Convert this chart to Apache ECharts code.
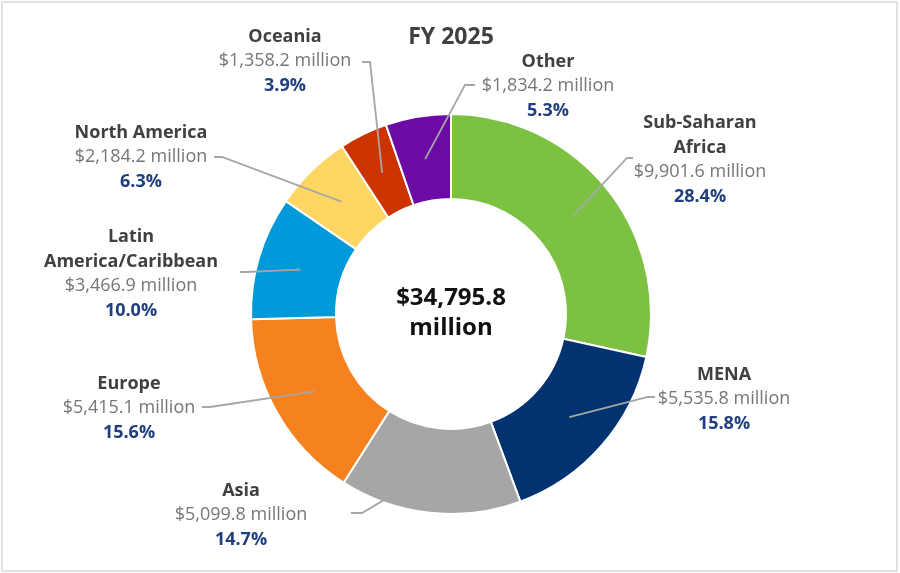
<!DOCTYPE html>
<html>
<head>
<meta charset="utf-8">
<title>FY 2025</title>
<script src="https://cdn.jsdelivr.net/npm/echarts@6/dist/echarts.min.js"></script>
<style>
  html, body { margin: 0; padding: 0; background: #fff; }
  #chart { width: 900px; height: 573px; }
  #frame {
    position: absolute; left: 1px; top: 1px; width: 897px; height: 571px;
    box-sizing: border-box; border: 2px solid #e2e2e2; pointer-events: none;
  }
</style>
</head>
<body>
<div id="chart"></div>
<div id="frame"></div>
<script>
// regions, clockwise from 12 o'clock
const regions = ["Sub-Saharan\nAfrica", "MENA", "Asia", "Europe", "Latin\nAmerica/Caribbean", "North America", "Oceania", "Other"];
// funding in $ million
const funding = [9901.6, 5535.8, 5099.8, 5415.1, 3466.9, 2184.2, 1358.2, 1834.2];
// share of total (%) as printed on the chart
const shares = [28.4, 15.8, 14.7, 15.6, 10.0, 6.3, 3.9, 5.3];
const colors = ["#7CC142", "#003370", "#A6A6A6", "#F5821F", "#0099DA", "#FFD662", "#CC3300", "#6B0AA5"];

// label placement (centre of text block) and leader-line bend/end
const labelAt = [[700, 160], [724, 399], [241, 515], [129, 408], [131, 274], [141, 157], [285, 61], [548, 86]];
const lineTail = [
  [[627, 158], [633, 158]],
  [[648, 397], [655, 397]],
  [[362, 513], [351, 513]],
  [[210, 407], [202, 407]],
  [[246, 272], [240, 272]],
  [[222, 157], [214, 157]],
  [[370, 62], [362, 62]],
  [[465, 85], [475, 85]]
];

const fmt = v => v.toLocaleString("en-US", { minimumFractionDigits: 1, maximumFractionDigits: 1 });
const total = funding.reduce((a, b) => a + b, 0);

const chart = echarts.init(document.getElementById("chart"));
const pieData = regions.map((r, i) => ({ name: r, value: funding[i] }));
const center = [451, 314];

const option = {
  animation: false,
  color: colors,
  graphic: [
    {
      type: "text", x: 451, y: 37,
      style: {
        text: "FY 2025", align: "center", verticalAlign: "middle",
        font: 'bold 23px "Open Sans"', fill: "#404040"
      }
    },
    {
      type: "text", x: 451, y: 313,
      style: {
        text: "$" + fmt(total) + "\nmillion", align: "center", verticalAlign: "middle",
        font: 'bold 24px "Open Sans"', lineHeight: 30, fill: "#111111"
      }
    }
  ],
  series: [
    {
      // the ring
      type: "pie",
      radius: [115, 200],
      center: center,
      startAngle: 90,
      silent: true,
      label: { show: false },
      labelLine: { show: false },
      itemStyle: { borderColor: "#fff", borderWidth: 2 },
      data: pieData
    },
    {
      // invisible pie to the middle of the ring, carries labels and leader lines
      type: "pie",
      radius: [0, 157],
      center: center,
      startAngle: 90,
      silent: true,
      z: 3,
      avoidLabelOverlap: false,
      itemStyle: { color: "rgba(0,0,0,0)", borderWidth: 0 },
      label: {
        show: true,
        position: "outside",
        fontFamily: "Open Sans",
        formatter: p => {
          const i = p.dataIndex;
          const name = regions[i].split("\n").map(s => "{n|" + s + "}").join("\n");
          return name + "\n{v|$" + fmt(funding[i]) + " million}\n{p|" + shares[i].toFixed(1) + "%}";
        },
        rich: {
          n: { fontFamily: "Open Sans", fontSize: 18, fontWeight: "bold", color: "#404040", lineHeight: 24.5 },
          v: { fontFamily: "Open Sans", fontSize: 18, color: "#767676", lineHeight: 24.5 },
          p: { fontFamily: "Open Sans", fontSize: 18, fontWeight: "bold", color: "#1F3F80", lineHeight: 24.5 }
        }
      },
      labelLine: {
        show: true,
        lineStyle: { color: "#A6A6A6", width: 1.8 }
      },
      labelLayout: params => {
        const i = params.dataIndex;
        const start = params.labelLinePoints[0];
        return {
          x: labelAt[i][0],
          y: labelAt[i][1],
          align: "center",
          verticalAlign: "middle",
          labelLinePoints: [start, lineTail[i][0], lineTail[i][1]]
        };
      },
      data: pieData
    }
  ]
};

chart.setOption(option);
</script>
</body>
</html>
